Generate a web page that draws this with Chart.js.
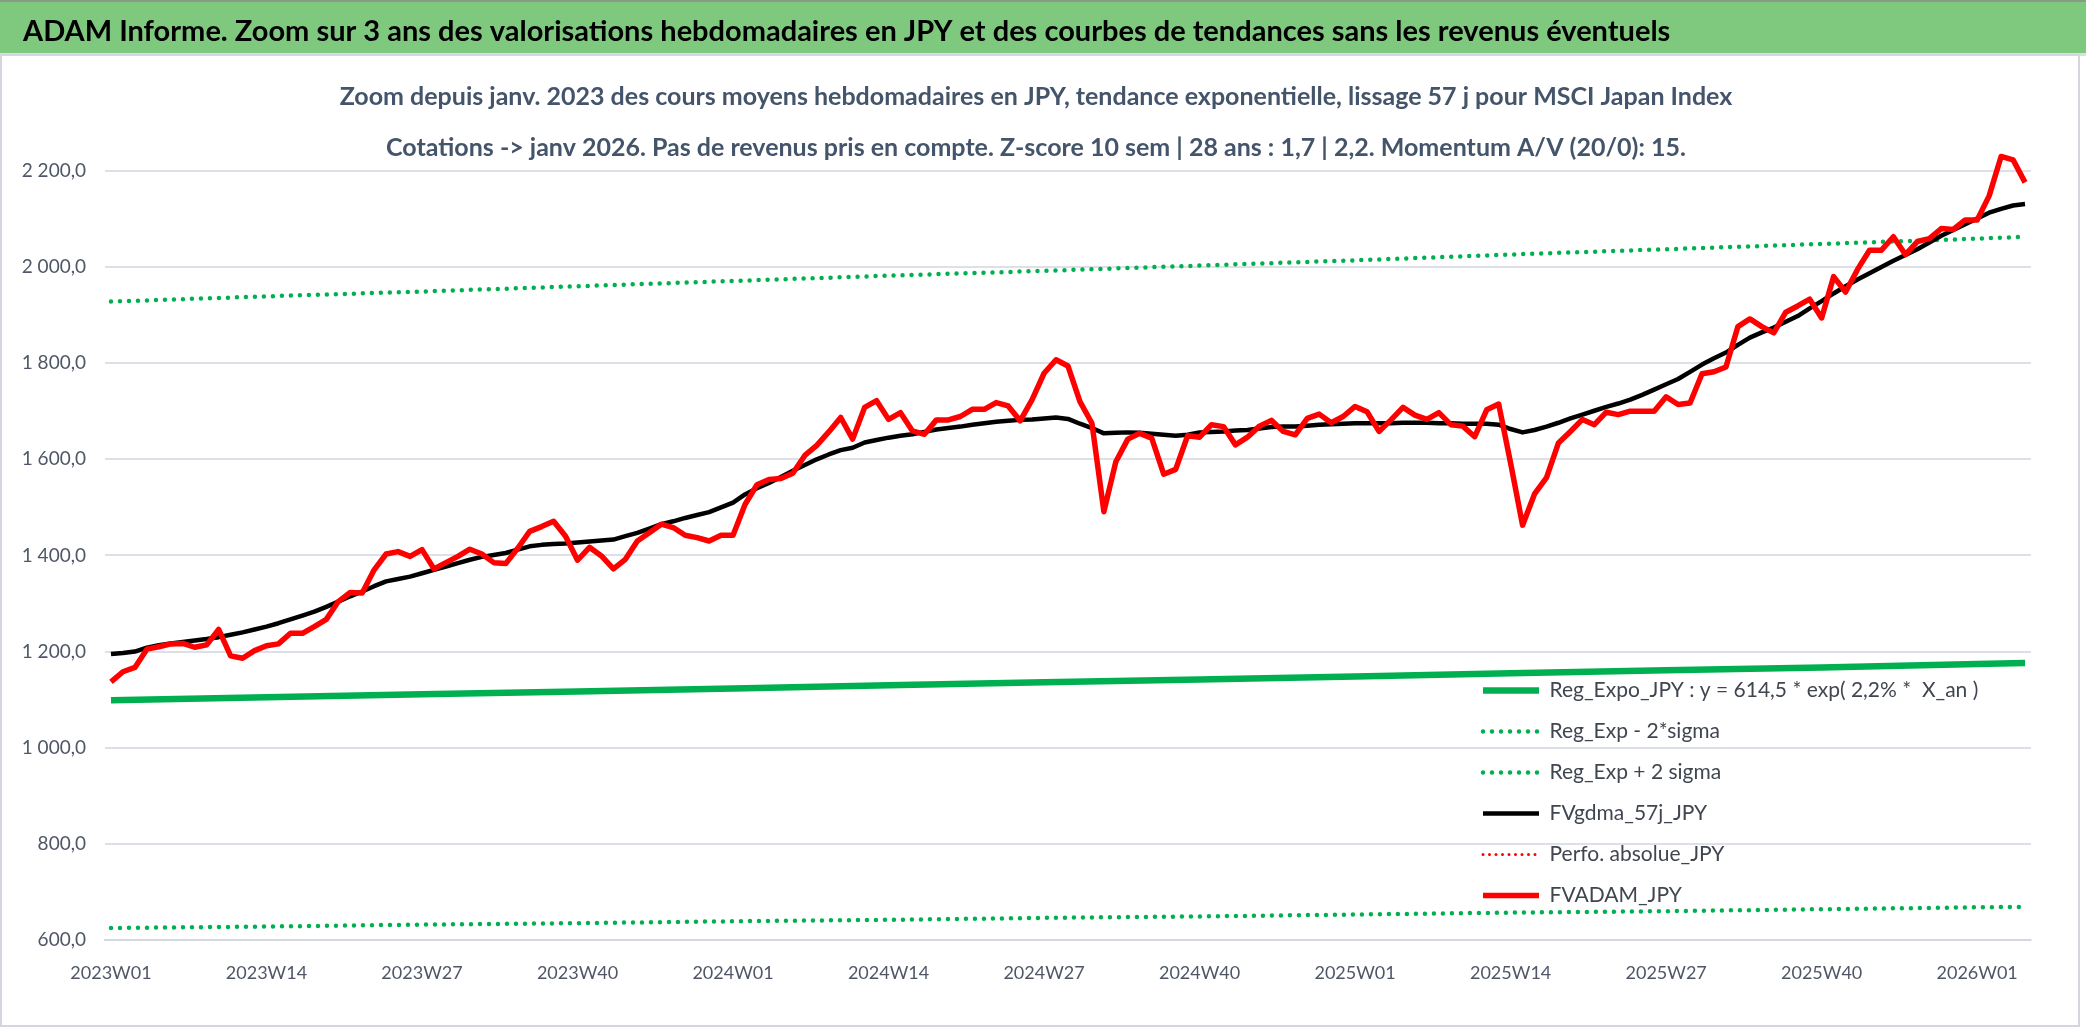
<!DOCTYPE html>
<html>
<head>
<meta charset="utf-8">
<title>ADAM Informe - MSCI Japan Index (JPY)</title>
<script src="https://cdn.jsdelivr.net/npm/chart.js@4.4.1/dist/chart.umd.min.js"></script>
<style>
  html, body { margin: 0; padding: 0; background: #ffffff; }
  #wrap { position: relative; width: 2086px; height: 1031px; }
</style>
</head>
<body>
<div id="wrap"><canvas id="adamChart"></canvas></div>
<script>
// weekly categories 2023W01 -> 2026W05
const weekLabels = [
  '2023W01','2023W02','2023W03','2023W04','2023W05','2023W06','2023W07','2023W08','2023W09','2023W10','2023W11','2023W12','2023W13',
  '2023W14','2023W15','2023W16','2023W17','2023W18','2023W19','2023W20','2023W21','2023W22','2023W23','2023W24','2023W25','2023W26',
  '2023W27','2023W28','2023W29','2023W30','2023W31','2023W32','2023W33','2023W34','2023W35','2023W36','2023W37','2023W38','2023W39',
  '2023W40','2023W41','2023W42','2023W43','2023W44','2023W45','2023W46','2023W47','2023W48','2023W49','2023W50','2023W51','2023W52',
  '2024W01','2024W02','2024W03','2024W04','2024W05','2024W06','2024W07','2024W08','2024W09','2024W10','2024W11','2024W12','2024W13',
  '2024W14','2024W15','2024W16','2024W17','2024W18','2024W19','2024W20','2024W21','2024W22','2024W23','2024W24','2024W25','2024W26',
  '2024W27','2024W28','2024W29','2024W30','2024W31','2024W32','2024W33','2024W34','2024W35','2024W36','2024W37','2024W38','2024W39',
  '2024W40','2024W41','2024W42','2024W43','2024W44','2024W45','2024W46','2024W47','2024W48','2024W49','2024W50','2024W51','2024W52',
  '2025W01','2025W02','2025W03','2025W04','2025W05','2025W06','2025W07','2025W08','2025W09','2025W10','2025W11','2025W12','2025W13',
  '2025W14','2025W15','2025W16','2025W17','2025W18','2025W19','2025W20','2025W21','2025W22','2025W23','2025W24','2025W25','2025W26',
  '2025W27','2025W28','2025W29','2025W30','2025W31','2025W32','2025W33','2025W34','2025W35','2025W36','2025W37','2025W38','2025W39',
  '2025W40','2025W41','2025W42','2025W43','2025W44','2025W45','2025W46','2025W47','2025W48','2025W49','2025W50','2025W51','2025W52',
  '2026W01','2026W02','2026W03','2026W04','2026W05'
];

// labels shown on the x axis (one every 13 weeks)
const tickLabels = ['2023W01','2023W14','2023W27','2023W40','2024W01','2024W14','2024W27',
  '2024W40','2025W01','2025W14','2025W27','2025W40','2026W01'];

// FVADAM_JPY, weekly average
const fvadamJpy = [
  1137,1158,1167,1205,1210,1216,1217,1209,1214,1246,1191,1186,1202,
  1212,1216,1238,1238,1252,1267,1304,1323,1322,1370,1403,1408,1398,
  1412,1372,1385,1398,1413,1403,1385,1383,1415,1450,1460,1471,1440,
  1390,1417,1399,1372,1392,1430,1447,1465,1458,1442,1437,1430,1442,
  1442,1506,1547,1558,1560,1571,1608,1629,1657,1687,1642,1708,1722,
  1683,1697,1659,1652,1682,1682,1689,1704,1704,1718,1711,1680,1724,
  1779,1807,1794,1720,1675,1491,1595,1642,1654,1644,1569,1579,1649,
  1646,1672,1668,1630,1646,1669,1681,1658,1651,1685,1694,1676,1689,
  1710,1699,1658,1682,1708,1692,1683,1697,1672,1669,1647,1703,1715,
  1592,1463,1528,1562,1634,1658,1683,1672,1698,1693,1700,1700,1700,
  1730,1714,1717,1778,1782,1792,1876,1892,1876,1863,1906,1919,1933,
  1894,1980,1948,1995,2035,2035,2063,2026,2053,2059,2080,2078,2098,
  2098,2148,2230,2223,2176
];

// FVgdma_57j_JPY, smoothed
const fvgdma57j = [
  1195,1197,1200,1208,1213,1217,1220,1223,1226,1230,1235,1240,1246,
  1252,1259,1267,1275,1283,1293,1304,1315,1325,1336,1346,1351,1356,
  1363,1370,1377,1384,1391,1397,1401,1405,1412,1419,1422,1424,1425,
  1427,1429,1431,1433,1440,1447,1456,1465,1471,1478,1484,1490,1500,
  1510,1527,1540,1551,1563,1576,1588,1600,1610,1619,1624,1635,1640,
  1645,1649,1652,1657,1662,1665,1668,1672,1675,1678,1680,1682,1683,
  1685,1687,1684,1674,1665,1654,1655,1656,1655,1653,1651,1649,1651,
  1656,1657,1658,1660,1661,1664,1667,1668,1668,1670,1672,1673,1674,
  1675,1675,1675,1675,1676,1676,1676,1675,1675,1674,1674,1674,1672,
  1663,1656,1661,1668,1676,1685,1693,1701,1709,1716,1724,1734,1745,
  1756,1767,1782,1797,1810,1822,1838,1853,1864,1874,1886,1898,1914,
  1929,1945,1960,1974,1987,2000,2013,2025,2037,2051,2065,2077,2089,
  2101,2113,2121,2128,2131
];

// exponential regression and +/- 2 sigma bands, read at each labelled week
const regWeeks = ['2023W01','2023W14','2023W27','2023W40','2024W01','2024W14','2024W27',
  '2024W40','2025W01','2025W14','2025W27','2025W40','2026W01','2026W05'];
const regExpo = [1099,1105,1111,1117,1123,1130,1136,1142,1148,1155,1161,1167,1174,1176];
const regMinus2Sigma = [625,628,632,635,639,642,646,649,653,657,660,664,668,669];
const regPlus2Sigma = [1928,1939,1949,1960,1971,1982,1992,2003,2014,2026,2037,2048,2059,2063];

// no value plotted for this series in the picture
const perfoAbsolue = [];

const chartTitle = 'ADAM Informe. Zoom sur 3 ans des valorisations hebdomadaires en JPY et des courbes de tendances sans les revenus éventuels';
const subtitleLines = [
  'Zoom depuis janv. 2023 des cours moyens hebdomadaires en JPY, tendance exponentielle, lissage 57 j pour MSCI Japan Index',
  'Cotations -> janv 2026. Pas de revenus pris en compte. Z-score 10 sem | 28 ans : 1,7 | 2,2. Momentum A/V (20/0): 15.'
];

const face = 'Lato, "Noto Sans", sans-serif';
const gridColor = '#dde0e6';
const textGrey = '#4f5766';

const frNumber = (v) => {
  const parts = Number(v).toFixed(1).split('.');
  return parts[0].replace(/\B(?=(\d{3})+(?!\d))/g, ' ') + ',' + parts[1];
};

const pairs = (weeks, values) => weeks.map((w, i) => ({ x: w, y: values[i] }));

const showWeek = (index) => tickLabels.includes(weekLabels[index]);

// green band + frame behind the header title
const headerBand = {
  id: 'headerBand',
  beforeDraw(chart) {
    const { ctx, width, height } = chart;
    ctx.save();
    ctx.fillStyle = '#ffffff';
    ctx.fillRect(0, 0, width, height);
    ctx.fillStyle = '#7fc97f';
    ctx.fillRect(0, 0, width, 53);
    ctx.fillStyle = '#8a9a8a';
    ctx.fillRect(0, 0, width, 2);
    ctx.fillStyle = '#dadde3';
    ctx.fillRect(0, 53, width, 3);
    ctx.strokeStyle = '#d3d6dc';
    ctx.lineWidth = 2;
    ctx.strokeRect(1, 55, 2078, 971);
    ctx.restore();
  }
};

// subtitle drawn over the plot top with a white box, like the spreadsheet title
const subtitleBox = {
  id: 'subtitleBox',
  beforeDatasetsDraw(chart) {
    const { ctx } = chart;
    const cx = 1036;
    ctx.save();
    ctx.font = 'bold 25px ' + face;
    const w = Math.max(...subtitleLines.map(t => ctx.measureText(t).width));
    ctx.fillStyle = '#ffffff';
    ctx.fillRect(cx - w / 2 - 8, 60, w + 16, 108);
    ctx.fillStyle = '#44546a';
    ctx.textAlign = 'center';
    ctx.textBaseline = 'alphabetic';
    subtitleLines.forEach((t, i) => ctx.fillText(t, cx, 105 + i * 51));
    ctx.restore();
  }
};

// header title starts a little in from the edge, legend sits low right in the plot
const placeBoxes = {
  id: 'placeBoxes',
  afterLayout(chart) {
    if (chart.titleBlock) chart.titleBlock.left = 23;
    const lg = chart.legend;
    if (!lg) return;
    lg.left = 1483 - lg.options.labels.padding;
    lg.bottom = 926;
  }
};

// legend samples use the dataset line style (dash, cap, width)
const legendItems = (chart) => {
  const items = Chart.defaults.plugins.legend.labels.generateLabels(chart);
  items.forEach((it) => {
    const ds = chart.data.datasets[it.datasetIndex];
    it.lineDash = ds.borderDash || [];
    it.lineCap = ds.borderCapStyle || 'butt';
    it.lineWidth = ds.borderWidth;
    it.strokeStyle = ds.borderColor;
  });
  return items;
};

const ctx = document.getElementById('adamChart');

new Chart(ctx, {
  type: 'line',
  data: {
    labels: weekLabels,
    datasets: [
      {
        label: 'Reg_Expo_JPY : y = 614,5 * exp( 2,2% *  X_an )',
        data: pairs(regWeeks, regExpo),
        borderColor: '#00b050',
        borderWidth: 6.5,
        order: 2
      },
      {
        label: 'Reg_Exp - 2*sigma',
        data: pairs(regWeeks, regMinus2Sigma),
        borderColor: '#00b050',
        borderWidth: 4.5,
        borderDash: [0, 9],
        borderCapStyle: 'round',
        order: 3
      },
      {
        label: 'Reg_Exp + 2 sigma',
        data: pairs(regWeeks, regPlus2Sigma),
        borderColor: '#00b050',
        borderWidth: 4.5,
        borderDash: [0, 9],
        borderCapStyle: 'round',
        order: 3
      },
      {
        label: 'FVgdma_57j_JPY',
        data: fvgdma57j,
        borderColor: '#000000',
        borderWidth: 4.5,
        order: 1
      },
      {
        label: 'Perfo. absolue_JPY',
        data: perfoAbsolue,
        borderColor: '#ff0000',
        borderWidth: 3,
        borderDash: [0, 6.5],
        borderCapStyle: 'round',
        order: 4
      },
      {
        label: 'FVADAM_JPY',
        data: fvadamJpy,
        borderColor: '#ff0000',
        borderWidth: 5.5,
        order: 0
      }
    ]
  },
  options: {
    responsive: true,
    maintainAspectRatio: false,
    animation: false,
    events: [],
    elements: {
      point: { radius: 0 },
      line: { tension: 0, borderJoinStyle: 'round', fill: false }
    },
    layout: { padding: { left: 0, right: 55, top: 0, bottom: 0 } },
    scales: {
      x: {
        type: 'category',
        offset: true,
        grid: {
          offset: true,
          color: (c) => showWeek(c.index) ? gridColor : 'rgba(0,0,0,0)',
          lineWidth: 1.5,
          drawTicks: true,
          tickLength: 8
        },
        border: { display: true, color: '#d4d7dd', width: 2 },
        ticks: {
          autoSkip: false,
          maxRotation: 0,
          minRotation: 0,
          padding: 14,
          color: textGrey,
          font: { family: face, size: 18 },
          callback(value, index) {
            return showWeek(index) ? weekLabels[index] : null;
          }
        },
        afterFit(scale) { scale.height = 91; }
      },
      y: {
        min: 600,
        max: 2300,
        grid: { color: gridColor, lineWidth: 2, drawTicks: false },
        border: { display: false },
        ticks: {
          stepSize: 200,
          includeBounds: false,
          padding: 19,
          color: textGrey,
          font: { family: face, size: 19 },
          callback: (v) => frNumber(v)
        },
        afterFit(scale) { scale.width = 105; }
      }
    },
    plugins: {
      title: {
        display: true,
        text: chartTitle,
        align: 'start',
        color: '#000000',
        font: { family: face, size: 29, weight: 'bold' },
        padding: { top: 14, bottom: 74 }
      },
      legend: {
        position: 'chartArea',
        align: 'end',
        labels: {
          usePointStyle: true,
          pointStyle: 'line',
          pointStyleWidth: 56,
          padding: 20,
          color: '#404650',
          font: { family: face, size: 21 },
          sort: (a, b) => a.datasetIndex - b.datasetIndex,
          generateLabels: legendItems
        }
      },
      tooltip: { enabled: false }
    }
  },
  plugins: [headerBand, subtitleBox, placeBoxes]
});
</script>
</body>
</html>
